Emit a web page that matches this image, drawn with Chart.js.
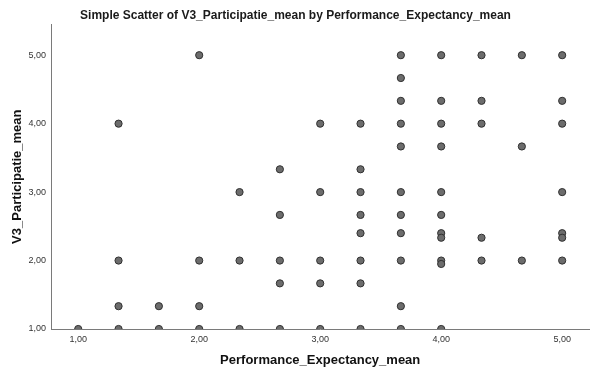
<!DOCTYPE html>
<html>
<head>
<meta charset="utf-8">
<script src="https://cdn.jsdelivr.net/npm/chart.js@4/dist/chart.umd.min.js"></script>
<style>
    html, body { margin: 0; padding: 0; background: #fff; }
    #wrap { width: 594px; height: 374px; position: relative; }
</style>
</head>
<body>
<div id="wrap"><canvas id="scatter"></canvas></div>
<script>
'use strict';

// Performance_Expectancy_mean (x) en V3_Participatie_mean (y), per respondent
const perfExpectancy = [
    1,
    4/3, 4/3, 4/3, 4/3,
    5/3, 5/3,
    2, 2, 2, 2,
    7/3, 7/3, 7/3,
    8/3, 8/3, 8/3, 8/3, 8/3,
    3, 3, 3, 3, 3,
    10/3, 10/3, 10/3, 10/3, 10/3, 10/3, 10/3, 10/3,
    11/3, 11/3, 11/3, 11/3, 11/3, 11/3, 11/3, 11/3, 11/3, 11/3, 11/3,
    4, 4, 4, 4, 4, 4, 4, 4, 4, 4, 4,
    13/3, 13/3, 13/3, 13/3, 13/3,
    14/3, 14/3, 14/3,
    5, 5, 5, 5, 5, 5, 5,
];
const participatie = [
    1,
    4, 2, 4/3, 1,
    4/3, 1,
    5, 2, 4/3, 1,
    3, 2, 1,
    10/3, 8/3, 2, 5/3, 1,
    4, 3, 2, 5/3, 1,
    4, 10/3, 3, 8/3, 2.4, 2, 5/3, 1,
    5, 14/3, 13/3, 4, 11/3, 3, 8/3, 2.4, 2, 4/3, 1,
    5, 13/3, 4, 11/3, 3, 8/3, 2.4, 7/3, 2, 1.95, 1,
    5, 13/3, 4, 7/3, 2,
    5, 11/3, 2,
    5, 13/3, 4, 3, 2.4, 7/3, 2,
];

const xTicks = [1, 2, 3, 4, 5];
const yTicks = [1, 2, 3, 4, 5];

const chartTitle = 'Simple Scatter of V3_Participatie_mean by Performance_Expectancy_mean';
const xTitle = 'Performance_Expectancy_mean';
const yTitle = 'V3_Participatie_mean';

/**
 * 1,00 / 2,00 ... (decimale komma)
 */
function
commaFormat(value)
{
    return Number(value).toFixed(2).replace('.', ',');
}

function
fixedTicks(values)
{
    return scale => { scale.ticks = values.map(v => ({ value: v })); };
}

function
drawScatter(canvas)
{
    const points = perfExpectancy.map((x, i) => ({ x, y: participatie[i] }));
    const tickFont = { family: '"Liberation Sans", Arial, sans-serif', size: 9 };
    const titleFont = { family: '"Liberation Sans", Arial, sans-serif', size: 13, weight: 'bold' };
    const axisBorder = { display: true, color: '#7a7a7a', width: 1 };

    return new Chart(canvas, {
        type: 'scatter',
        data: {
            datasets: [{
                data: points,
                pointRadius: 3.6,
                pointHoverRadius: 3.6,
                pointBorderWidth: 1,
                backgroundColor: 'rgb(108,108,108)',
                borderColor: 'rgb(48,48,48)',
                // half markers on the x axis, as in SPSS
                clip: { left: false, top: false, right: false, bottom: 0 },
            }],
        },
        options: {
            responsive: true,
            maintainAspectRatio: false,
            animation: false,
            layout: { padding: { left: 0, top: 0, right: 3, bottom: 0 } },
            plugins: {
                legend: { display: false },
                tooltip: { enabled: false },
                title: {
                    display: true,
                    text: chartTitle,
                    color: '#1a1a1a',
                    font: { family: '"Liberation Sans", Arial, sans-serif', size: 12, weight: 'bold' },
                    padding: { top: 8, bottom: 2 },
                },
            },
            scales: {
                x: {
                    type: 'linear',
                    min: 0.775,
                    max: 5.225,
                    afterBuildTicks: fixedTicks(xTicks),
                    afterFit: scale => { scale.height = 45; },
                    grid: { display: false, drawTicks: false },
                    border: axisBorder,
                    ticks: {
                        font: tickFont,
                        color: '#333',
                        padding: 5,
                        maxRotation: 0,
                        callback: commaFormat,
                    },
                    title: {
                        display: true,
                        text: xTitle,
                        color: '#111',
                        font: titleFont,
                        padding: { top: 0, bottom: 6 },
                    },
                },
                y: {
                    type: 'linear',
                    min: 1,
                    max: 5.45,
                    afterBuildTicks: fixedTicks(yTicks),
                    afterFit: scale => { scale.width = 51; },
                    grid: { display: false, drawTicks: false },
                    border: axisBorder,
                    ticks: {
                        font: tickFont,
                        color: '#333',
                        padding: 5,
                        callback: commaFormat,
                    },
                    title: {
                        display: true,
                        text: yTitle,
                        color: '#111',
                        font: titleFont,
                        padding: { top: 10, bottom: 0 },
                    },
                },
            },
        },
    });
}

drawScatter(document.getElementById('scatter'));
</script>
</body>
</html>
